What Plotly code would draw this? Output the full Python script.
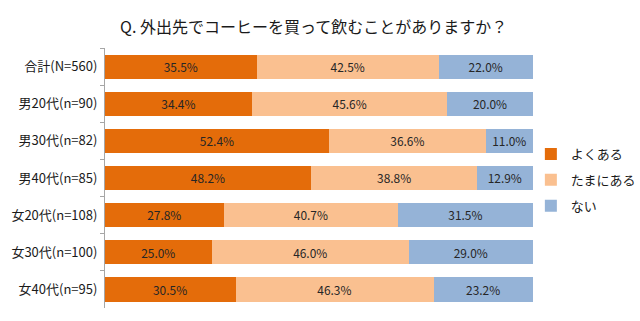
import plotly.graph_objects as go

categories = ["合計(N=560)", "男20代(n=90)", "男30代(n=82)", "男40代(n=85)",
              "女20代(n=108)", "女30代(n=100)", "女40代(n=95)"]
often = [35.5, 34.4, 52.4, 48.2, 27.8, 25.0, 30.5]
sometimes = [42.5, 45.6, 36.6, 38.8, 40.7, 46.0, 46.3]
never = [22.0, 20.0, 11.0, 12.9, 31.5, 29.0, 23.2]
series_names = ["よくある", "たまにある", "ない"]
colors = ["#E46C0A", "#FAC090", "#95B3D7"]

fig = go.Figure()
for i, (name, vals) in enumerate(zip(series_names, [often, sometimes, never])):
    fig.add_trace(go.Bar(
        y=categories, x=vals, name=name, orientation="h",
        marker=dict(color=colors[i], line=dict(width=0)),
        texttemplate="%{x:.1f}%", textposition="inside",
        insidetextanchor="middle", textangle=0,
        textfont=dict(color="#262626", size=12.5),
        legendgroup=name,
    ))

fig.update_layout(
    barmode="stack", bargap=0.35,
    width=640, height=321,
    margin=dict(l=105, r=107, t=48, b=13, autoexpand=False),
    paper_bgcolor="white", plot_bgcolor="white",
    font=dict(family="Noto Sans CJK JP, sans-serif", size=13, color="#1a1a1a"),
    title=dict(text="Q. 外出先でコーヒーを買って飲むことがありますか？",
               x=0.49, xanchor="center", y=0.915, yanchor="middle",
               font=dict(size=16, color="#1a1a1a")),
    uniformtext=dict(minsize=8, mode="show"),
    showlegend=True,
    legend=dict(x=0.995, y=0.65, xanchor="left", yanchor="top",
                bgcolor="rgba(0,0,0,0)",
                traceorder="grouped", tracegroupgap=6,
                font=dict(size=13), itemwidth=30),
    xaxis=dict(range=[0, 100], visible=False, fixedrange=True),
    yaxis=dict(autorange="reversed", showline=True, linecolor="#A6A6A6",
               linewidth=1, ticks="outside", ticklen=4, tickcolor="#A6A6A6",
               tickson="boundaries", ticklabelstandoff=4,
               tickfont=dict(size=13)),
)

fig.write_html("out.html")
